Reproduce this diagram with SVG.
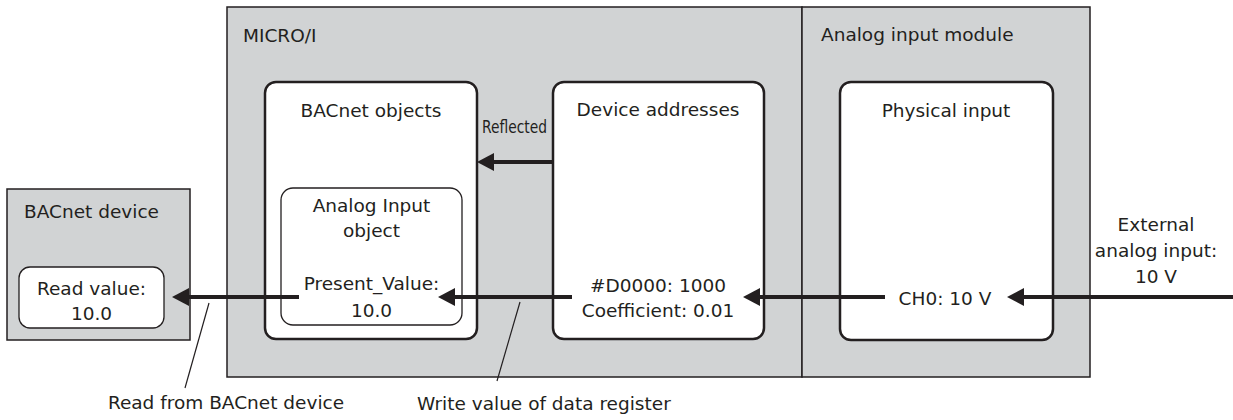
<svg xmlns="http://www.w3.org/2000/svg" width="1233" height="420" viewBox="0 0 1233 420">
<style>
text{font-family:"DejaVu Sans","Verdana",sans-serif;font-size:18.5px;fill:#231f20}
.c{text-anchor:middle}
.grp{fill:#d1d3d4;stroke:#231f20;stroke-width:1.5}
.box{fill:#fff;stroke:#231f20;stroke-width:2.5}
.inner{fill:#fff;stroke:#231f20;stroke-width:1.3}
.arr{stroke:#231f20;stroke-width:4;fill:none;marker-end:url(#ah)}
.call{stroke:#231f20;stroke-width:1.2;fill:none}
</style>
<defs>
<marker id="ah" markerUnits="userSpaceOnUse" markerWidth="18" markerHeight="18" refX="7" refY="9" orient="auto">
<path d="M0,0 L17,9 L0,18 z" fill="#231f20"/>
</marker>
</defs>
<rect width="1233" height="420" fill="#fff"/>
<g id="micro">
<rect class="grp" x="227" y="7" width="575" height="370"/>
<text x="243" y="42">MICRO/I</text>
</g>
<g id="module">
<rect class="grp" x="802" y="7" width="288" height="370"/>
<text x="821" y="41">Analog input module</text>
</g>
<g id="bacnet-device">
<rect class="grp" x="7" y="189" width="183" height="151"/>
<text x="24" y="218">BACnet device</text>
</g>
<g id="read-value">
<rect class="inner" x="19" y="267" width="145" height="61" rx="11"/>
<text class="c" x="91.5" y="295">Read value:</text>
<text class="c" x="91.5" y="320">10.0</text>
</g>
<g id="bacnet-objects">
<rect class="box" x="265" y="82" width="212" height="257" rx="11"/>
<text class="c" x="371" y="117">BACnet objects</text>
</g>
<g id="analog-input-object">
<rect class="inner" x="281" y="188" width="181" height="137" rx="12"/>
<text class="c" x="371.5" y="212">Analog Input</text>
<text class="c" x="371.5" y="237">object</text>
<text class="c" x="371.5" y="290">Present_Value:</text>
<text class="c" x="371.5" y="317">10.0</text>
</g>
<g id="device-addresses">
<rect class="box" x="553" y="82" width="211" height="257" rx="11"/>
<text class="c" x="658" y="116">Device addresses</text>
<text class="c" x="658" y="292">#D0000: 1000</text>
<text class="c" x="658" y="317">Coefficient: 0.01</text>
</g>
<g id="physical-input">
<rect class="box" x="840" y="82" width="213" height="258" rx="11"/>
<text class="c" x="946" y="117">Physical input</text>
<text class="c" x="945" y="305">CH0: 10 V</text>
</g>
<g id="external">
<text class="c" x="1156" y="231">External</text>
<text class="c" x="1156" y="257">analog input:</text>
<text class="c" x="1156" y="283">10 V</text>
</g>
<g id="connectors">
<line class="arr" x1="552" y1="162" x2="487" y2="162"/>
<text x="482" y="133" textLength="65" lengthAdjust="spacingAndGlyphs" style="font-size:17px">Reflected</text>
<line class="arr" x1="299" y1="297" x2="182" y2="297"/>
<line class="arr" x1="572" y1="297" x2="448" y2="297"/>
<line class="arr" x1="885" y1="297" x2="753" y2="297"/>
<line class="arr" x1="1233" y1="297" x2="1017" y2="297"/>
<line class="call" x1="185" y1="388" x2="209" y2="303"/>
<line class="call" x1="497" y1="381" x2="520" y2="302"/>
</g>
<g id="labels">
<text class="c" x="226" y="409">Read from BACnet device</text>
<text x="417" y="410">Write value of data register</text>
</g>
</svg>
